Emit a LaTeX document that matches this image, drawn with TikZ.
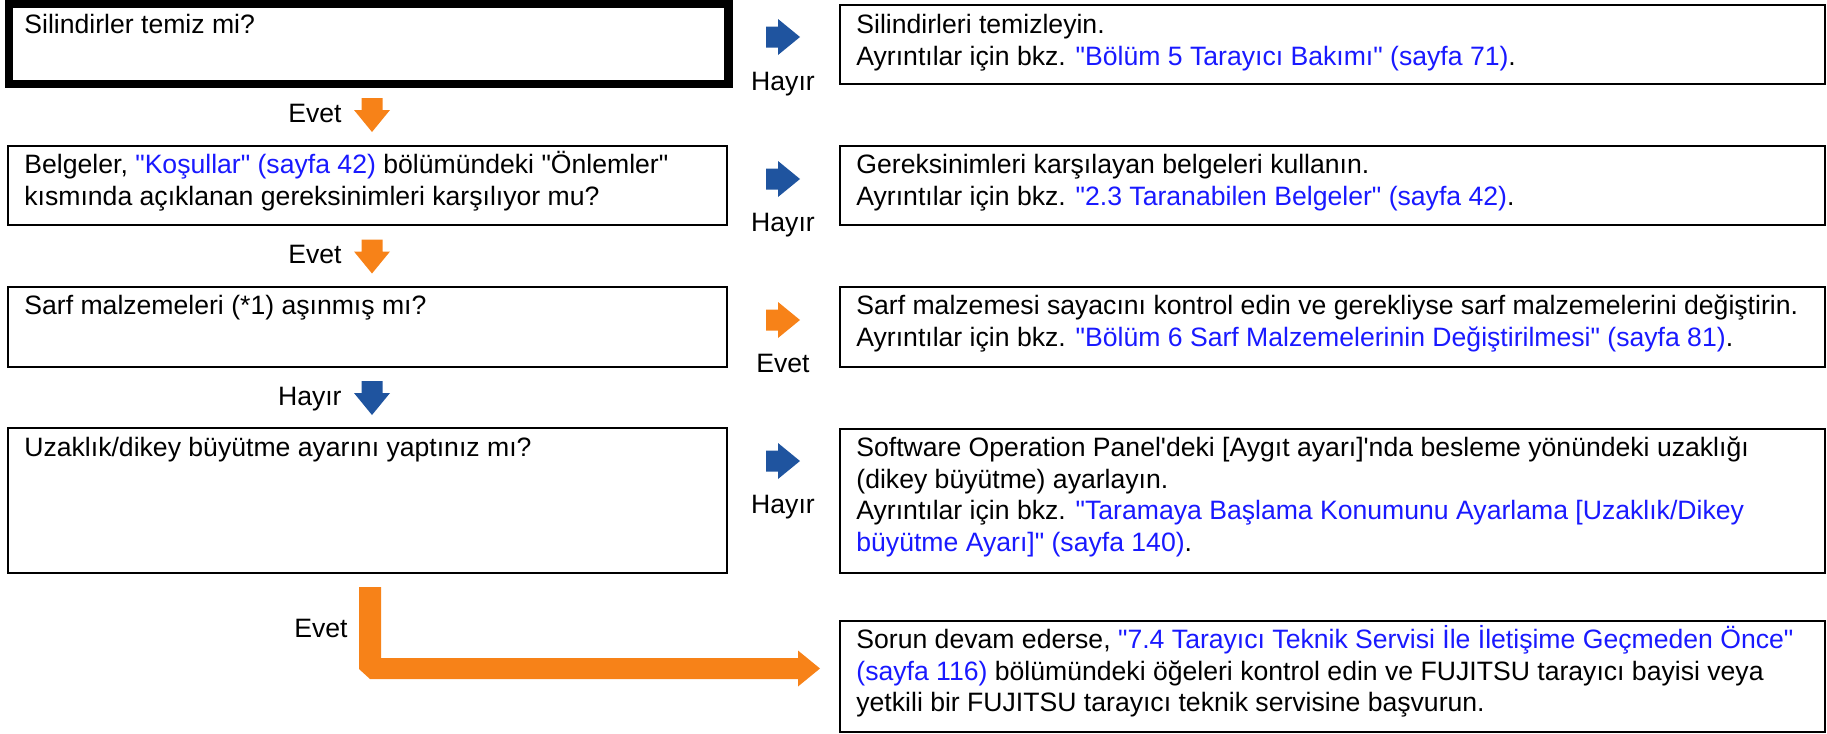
\documentclass[tikz,border=0pt]{standalone}
\usepackage{fontspec}
\newfontfamily\arialf{Liberation Sans}
\usetikzlibrary{fit}
\definecolor{arrblue}{RGB}{31,84,159}
\definecolor{arrorange}{RGB}{247,130,24}
\definecolor{linkblue}{RGB}{25,25,255}
\newcommand{\lk}[1]{\textcolor{linkblue}{#1}}
\newcommand{\tst}{\rule{0pt}{12.5pt}}
\tikzset{
  pics/blkarrow/.style={code={
    \fill[#1] (-17,-10.5) -- (-5,-10.5) -- (-5,-18) -- (17,0) -- (-5,18) -- (-5,10.5) -- (-17,10.5) -- cycle;
  }},
  box/.style={draw=black, line width=1pt, inner sep=0pt},
  thickbox/.style={draw=black, line width=4.25pt, inner sep=0pt},
  txt/.style={anchor=north west, inner sep=0pt, align=left, font=\arialf\fontsize{13.3pt}{15.8pt}\selectfont},
  lbl/.style={inner sep=0pt, font=\arialf\fontsize{13.3pt}{15.8pt}\selectfont},
}
\begin{document}
\begin{tikzpicture}[x=0.5pt,y=-0.5pt]
\useasboundingbox (0,0) rectangle (1827,734);
% left boxes
\node[thickbox, fit={(9,4) (728.5,84)}] (q1) {};
\node[box, fit={(8,146) (727,225)}] (q2) {};
\node[box, fit={(8,287) (727,367)}] (q3) {};
\node[box, fit={(8,428) (727,573)}] (q4) {};
% right boxes
\node[box, fit={(840,5) (1825,84)}] (r1) {};
\node[box, fit={(840,146) (1825,225)}] (r2) {};
\node[box, fit={(840,287) (1825,367)}] (r3) {};
\node[box, fit={(840,429) (1825,573)}] (r4) {};
\node[box, fit={(840,621) (1825,732)}] (r5) {};
% left texts
\node[txt] (lt1) at (24,8) {\tst Silindirler temiz mi?};
\node[txt] (lt2) at (24,148) {\tst Belgeler, \lk{"Koşullar" (sayfa 42)} bölümündeki "Önlemler"\\kısmında açıklanan gereksinimleri karşılıyor mu?};
\node[txt] (lt3) at (24,289) {\tst Sarf malzemeleri (*1) aşınmış mı?};
\node[txt] (lt4) at (24,431) {\tst Uzaklık/dikey büyütme ayarını yaptınız mı?};
% right texts
\node[txt] (rt1) at (856,8) {\tst Silindirleri temizleyin.\\Ayrıntılar için bkz. \lk{"Bölüm 5 Tarayıcı Bakımı" (sayfa 71)}.};
\node[txt] (rt2) at (856,148) {\tst Gereksinimleri karşılayan belgeleri kullanın.\\Ayrıntılar için bkz. \lk{"2.3 Taranabilen Belgeler" (sayfa 42)}.};
\node[txt] (rt3) at (856,289) {\tst Sarf malzemesi sayacını kontrol edin ve gerekliyse sarf malzemelerini değiştirin.\\Ayrıntılar için bkz. \lk{"Bölüm 6 Sarf Malzemelerinin Değiştirilmesi" (sayfa 81)}.};
\node[txt] (rt4) at (856,431) {\tst Software Operation Panel'deki [Aygıt ayarı]'nda besleme yönündeki uzaklığı\\(dikey büyütme) ayarlayın.\\Ayrıntılar için bkz. \lk{"Taramaya Başlama Konumunu Ayarlama [Uzaklık/Dikey}\\\lk{büyütme Ayarı]" (sayfa 140)}.};
\node[txt] (rt5) at (856,623) {\tst Sorun devam ederse, \lk{"7.4 Tarayıcı Teknik Servisi İle İletişime Geçmeden Önce"}\\\lk{(sayfa 116)} bölümündeki öğeleri kontrol edin ve FUJITSU tarayıcı bayisi veya\\yetkili bir FUJITSU tarayıcı teknik servisine başvurun.};
% right arrows and labels
\pic at (783,37) {blkarrow=arrblue};
\pic at (783,179) {blkarrow=arrblue};
\pic at (783,320) {blkarrow=arrorange};
\pic at (783,461) {blkarrow=arrblue};
\node[lbl, anchor=base] (h1) at (783,90) {Hayır};
\node[lbl, anchor=base] (h2) at (783,231) {Hayır};
\node[lbl, anchor=base] (e3) at (783,372) {Evet};
\node[lbl, anchor=base] (h4) at (783,513) {Hayır};
% down arrows and labels
\pic[rotate=-90] at (372,115) {blkarrow=arrorange};
\pic[rotate=-90] at (372,256.5) {blkarrow=arrorange};
\pic[rotate=-90] at (372,398) {blkarrow=arrblue};
\node[lbl, anchor=base east] (e1) at (342,122) {Evet};
\node[lbl, anchor=base east] (e2) at (342,263) {Evet};
\node[lbl, anchor=base east] (h3) at (342,405) {Hayır};
% final L arrow
\fill[arrorange] (359,587) -- (381,587) -- (381,658) -- (798,658) -- (798,650.5) -- (820,668.5) -- (798,686.5) -- (798,679) -- (370,679) -- (359,669) -- cycle;
\node[lbl, anchor=base east] (e4) at (348,637) {Evet};
\end{tikzpicture}
\end{document}
